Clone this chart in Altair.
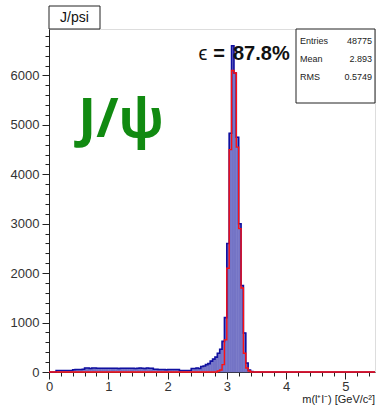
import altair as alt
import pandas as pd

# ---------------- data ----------------
BIN_W = 0.04
X_MAX = 5.5
Y_MAX = 6940

blue_start = 0.12
blue_counts = [
    30, 30, 30, 30, 30, 30, 30,                      # 0.12-0.40
    45, 50, 50, 50, 55,                              # 0.40-0.60
    80, 80, 70, 80, 80, 75, 75, 75, 75, 75, 75, 75, 75, 75, 70,
    75, 75, 75, 75, 75, 75, 70, 75, 80, 75, 70, 80, 75, 75,  # 0.60-1.76
    55, 55, 50, 50, 50, 45, 50, 50, 50, 50, 50,      # 1.76-2.20
    30, 30, 30, 30, 30,                              # 2.20-2.40
    70, 70, 80, 70,                                  # 2.40-2.56
    110, 120, 150, 170,                              # 2.56-2.72
    220, 260, 300,                                   # 2.72-2.84
    380, 460, 620, 1100,                             # 2.84-3.00
    2600, 4830, 6600, 6050, 4750, 3000, 1750,        # 3.00-3.28
    790, 180, 40, 10,                                # 3.28-3.44
]

red_start = 2.84
red_counts = [20, 40, 150, 650, 2100, 4500, 6100, 6050, 4550, 2900, 1700, 380, 80, 20]

stat_names = ["Entries", "Mean", "RMS"]
stat_values = ["48775", "2.893", "0.5749"]

x_major = [0, 1, 2, 3, 4, 5]
y_major = [0, 1000, 2000, 3000, 4000, 5000, 6000]
x_minor = [round(i * 0.2, 1) for i in range(28)]
y_minor = [i * 200 for i in range(35)]

# ---------------- helpers ----------------
def outline(start, counts):
    pts = [(0.0, 0)]
    prev = 0
    for i, c in enumerate(counts):
        e = round(start + i * BIN_W, 4)
        pts.append((e, prev))
        pts.append((e, c))
        prev = c
    e = round(start + len(counts) * BIN_W, 4)
    pts.append((e, prev))
    pts.append((e, 0))
    pts.append((X_MAX, 0))
    return pd.DataFrame({"m": [p[0] for p in pts], "n": [p[1] for p in pts],
                         "o": list(range(len(pts)))})


def bins(start, counts):
    lo = [round(start + i * BIN_W, 4) for i in range(len(counts))]
    hi = [round(v + BIN_W, 4) for v in lo]
    return pd.DataFrame({"lo": lo, "hi": hi, "n": counts})


blue_line_df = outline(blue_start, blue_counts)
red_line_df = outline(red_start, red_counts)
blue_bins_df = bins(blue_start, blue_counts)

FONT = "Liberation Sans"
xscale = alt.Scale(domain=[0, X_MAX], nice=False, zero=False)
yscale = alt.Scale(domain=[0, Y_MAX], nice=False, zero=True)

x_axis_major = alt.Axis(
    orient="bottom", values=x_major, title=None, grid=False, tickSize=7,
    labelPadding=1, labelFlush=False, labelOverlap=False,
    labelFont=FONT, labelFontSize=13, labelColor="#333",
    domainColor="#222", tickColor="#222", format="d",
)
y_axis_major = alt.Axis(
    orient="left", values=y_major, title=None, grid=False, tickSize=7,
    labelPadding=3, labelOverlap=False,
    labelFont=FONT, labelFontSize=13, labelColor="#333",
    domainColor="#222", tickColor="#222", format="d",
)
x_axis_minor = alt.Axis(
    orient="bottom", values=x_minor, title=None, grid=False, tickSize=4,
    labels=False, domain=False, tickColor="#222",
)
y_axis_minor = alt.Axis(
    orient="left", values=y_minor, title=None, grid=False, tickSize=4,
    labels=False, domain=False, tickColor="#222",
)

fill = alt.Chart(blue_bins_df).mark_rect(color="#7474c6", stroke="#7474c6",
                                         strokeWidth=0.6).encode(
    x=alt.X("lo:Q", scale=xscale, axis=x_axis_major),
    x2="hi:Q",
    y=alt.Y("n:Q", scale=yscale, axis=y_axis_major),
    y2=alt.datum(0),
)

blue_line = alt.Chart(blue_line_df).mark_line(color="#1010a0", strokeWidth=1.6).encode(
    x=alt.X("m:Q", scale=xscale, axis=x_axis_minor),
    y=alt.Y("n:Q", scale=yscale, axis=y_axis_minor),
    order="o:Q")

red_line = alt.Chart(red_line_df).mark_line(color="#ff1010", strokeWidth=1.4).encode(
    x=alt.X("m:Q", scale=xscale, axis=None),
    y=alt.Y("n:Q", scale=yscale, axis=None),
    order="o:Q")


def txt(s, x, y, **kw):
    return alt.Chart(pd.DataFrame({"t": [s]})).mark_text(**kw).encode(
        text="t:N", x=alt.value(x), y=alt.value(y))


def box(x1, x2, y1, y2):
    return alt.Chart(pd.DataFrame({"a": [0]})).mark_rect(
        fill="white", stroke="#222", strokeWidth=1).encode(
        x=alt.value(x1), x2=alt.value(x2), y=alt.value(y1), y2=alt.value(y2))


layers = [fill, blue_line, red_line]

# title box
layers.append(box(0, 51, -23, 0))
layers.append(txt("J/psi", 25.5, -11, font=FONT, fontSize=14, color="#111",
                  align="center", baseline="middle"))

# stats box
layers.append(box(247, 326, 0, 74))
for i, (nm, vl) in enumerate(zip(stat_names, stat_values)):
    yy = 12 + 18 * i
    layers.append(txt(nm, 251, yy, font=FONT, fontSize=9, color="#222",
                      align="left", baseline="middle"))
    layers.append(txt(vl, 323, yy, font=FONT, fontSize=9, color="#222",
                      align="right", baseline="middle"))

# efficiency label
layers.append(txt("ϵ", 154, 31, font=FONT, fontSize=20, color="#111",
                  align="center", baseline="alphabetic"))
layers.append(txt("=", 170, 31, font=FONT, fontSize=20, fontWeight="bold", color="#111",
                  align="center", baseline="alphabetic"))
layers.append(txt("87.8%", 184, 31, font=FONT, fontSize=20, fontWeight="bold", color="#111",
                  align="left", baseline="alphabetic"))

# big J/psi label
layers.append(txt("J/ψ", 72, 108, font="Open Sans", fontSize=54, fontWeight="bold",
                  color="#118a11", align="center", baseline="alphabetic"))

# x-axis title
layers.append(txt("m(l⁺l⁻) [GeV/c²]", 326, 374, font=FONT, fontSize=11, color="#222",
                  align="right", baseline="alphabetic"))

chart = alt.layer(*layers).resolve_axis(x="independent", y="independent").properties(
    width=326, height=343,
    autosize=alt.AutoSizeParams(type="none"),
    padding={"left": 49, "top": 29, "right": 2, "bottom": 38},
).configure_view(stroke="#222", strokeWidth=1.2).configure(background="white")

chart.save("out.html", embed_options={"renderer": "svg", "actions": False})
